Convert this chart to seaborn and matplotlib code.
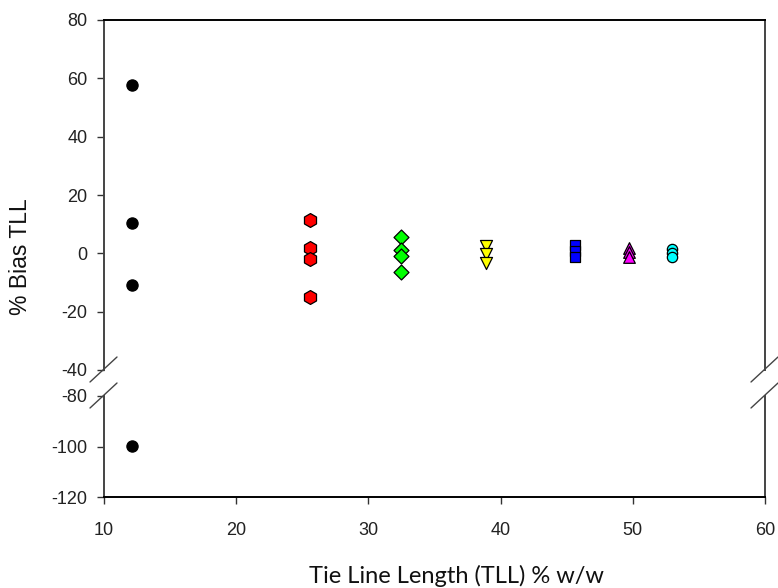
import matplotlib
matplotlib.use("Agg")
import matplotlib.pyplot as plt
import seaborn as sns
import pandas as pd

sns.set_theme(style="ticks")
plt.rcParams["font.family"] = ["Liberation Sans", "DejaVu Sans"]
plt.rcParams["axes.unicode_minus"] = False

# Tie line lengths (% w/w) and the % bias of the TLL at each one
tll_black = [12.15, 12.15, 12.15, 12.15]
bias_black = [57.7, 10.3, -10.9, -99.8]
tll_red = [25.6, 25.6, 25.6, 25.6]
bias_red = [11.4, 1.7, -2.0, -14.8]
tll_green = [32.5, 32.5, 32.5, 32.5]
bias_green = [5.7, 1.1, -0.8, -6.5]
tll_yellow = [38.9, 38.9, 38.9]
bias_yellow = [2.6, -0.3, -3.3]
tll_blue = [45.6, 45.6, 45.6]
bias_blue = [2.8, 0.8, -1.2]
tll_magenta = [49.7, 49.7, 49.7]
bias_magenta = [1.8, 0.3, -1.2]
tll_cyan = [53.0, 53.0, 53.0]
bias_cyan = [1.5, 0.2, -1.2]

series = [
    (tll_black, bias_black, "black", "o", 65),
    (tll_red, bias_red, "#FF0000", "h", 100),
    (tll_green, bias_green, "#00FF00", "D", 58),
    (tll_yellow, bias_yellow, "#FFFF00", "v", 75),
    (tll_blue, bias_blue, "#0000FF", "s", 50),
    (tll_magenta, bias_magenta, "#FF00FF", "^", 70),
    (tll_cyan, bias_cyan, "#00FFFF", "o", 55),
]

x_ticks = [10, 20, 30, 40, 50, 60]
y_ticks_upper = [80, 60, 40, 20, 0, -20, -40]
y_ticks_lower = [-80, -100, -120]

W, H = 778, 588
fig = plt.figure(figsize=(W / 100, H / 100), dpi=100)

left, right = 104 / W, 765 / W
ax_top = fig.add_axes([left, 1 - 370 / H, right - left, (370 - 20) / H])
ax_bot = fig.add_axes([left, 1 - 497 / H, right - left, (497 - 396) / H])

for ax in (ax_top, ax_bot):
    for xs, ys, color, marker, size in series:
        df = pd.DataFrame({"TLL": xs, "Bias": ys})
        sns.scatterplot(data=df, x="TLL", y="Bias", ax=ax, color=color,
                        marker=marker, s=size, edgecolor="black",
                        linewidth=0.9, zorder=3, legend=False)
    ax.set_xlim(10, 60)
    ax.set_xlabel("")
    ax.set_ylabel("")
    ax.set_facecolor("white")
    for side in ("left", "right"):
        ax.spines[side].set_visible(True)
        ax.spines[side].set_color("#444444")
        ax.spines[side].set_linewidth(1.4)

ax_top.set_ylim(-40, 80)
ax_top.set_yticks(y_ticks_upper)
ax_top.set_xticks(x_ticks)
ax_top.spines["bottom"].set_visible(False)
ax_top.spines["top"].set_visible(True)
ax_top.spines["top"].set_color("black")
ax_top.spines["top"].set_linewidth(1.4)
ax_top.tick_params(axis="x", bottom=False, top=False, labelbottom=False)

ax_bot.set_ylim(-120, -80)
ax_bot.set_yticks(y_ticks_lower)
ax_bot.set_xticks(x_ticks)
ax_bot.spines["top"].set_visible(False)
ax_bot.spines["bottom"].set_color("black")
ax_bot.spines["bottom"].set_linewidth(1.4)

for ax in (ax_top, ax_bot):
    ax.tick_params(axis="y", left=True, right=False, direction="out",
                   length=5, width=1.0, color="#333333", pad=7,
                   labelsize=13, labelcolor="#222222")
ax_bot.tick_params(axis="x", bottom=True, top=False, direction="out",
                   length=5, width=1.0, color="#333333", pad=13,
                   labelsize=13, labelcolor="#222222")

# Axis break slashes on both sides of the gap
for xpix in (104, 765):
    for ypix in (370, 396):
        fig.add_artist(plt.Line2D(
            [(xpix - 14) / W, (xpix + 13) / W],
            [1 - (ypix + 12) / H, 1 - (ypix - 13) / H],
            color="#444444", linewidth=1.0, transform=fig.transFigure))

fig.text(21 / W, 1 - 257 / H, "% Bias TLL", rotation=90, ha="center",
         va="center", fontsize=16.5, color="#111111")
fig.text(456 / W, 1 - 576 / H, "Tie Line Length (TLL) % w/w", ha="center",
         va="center", fontsize=17, color="#111111",
         family=["Lato", "DejaVu Sans"])

fig.savefig("out.png", dpi=100, facecolor="white")
